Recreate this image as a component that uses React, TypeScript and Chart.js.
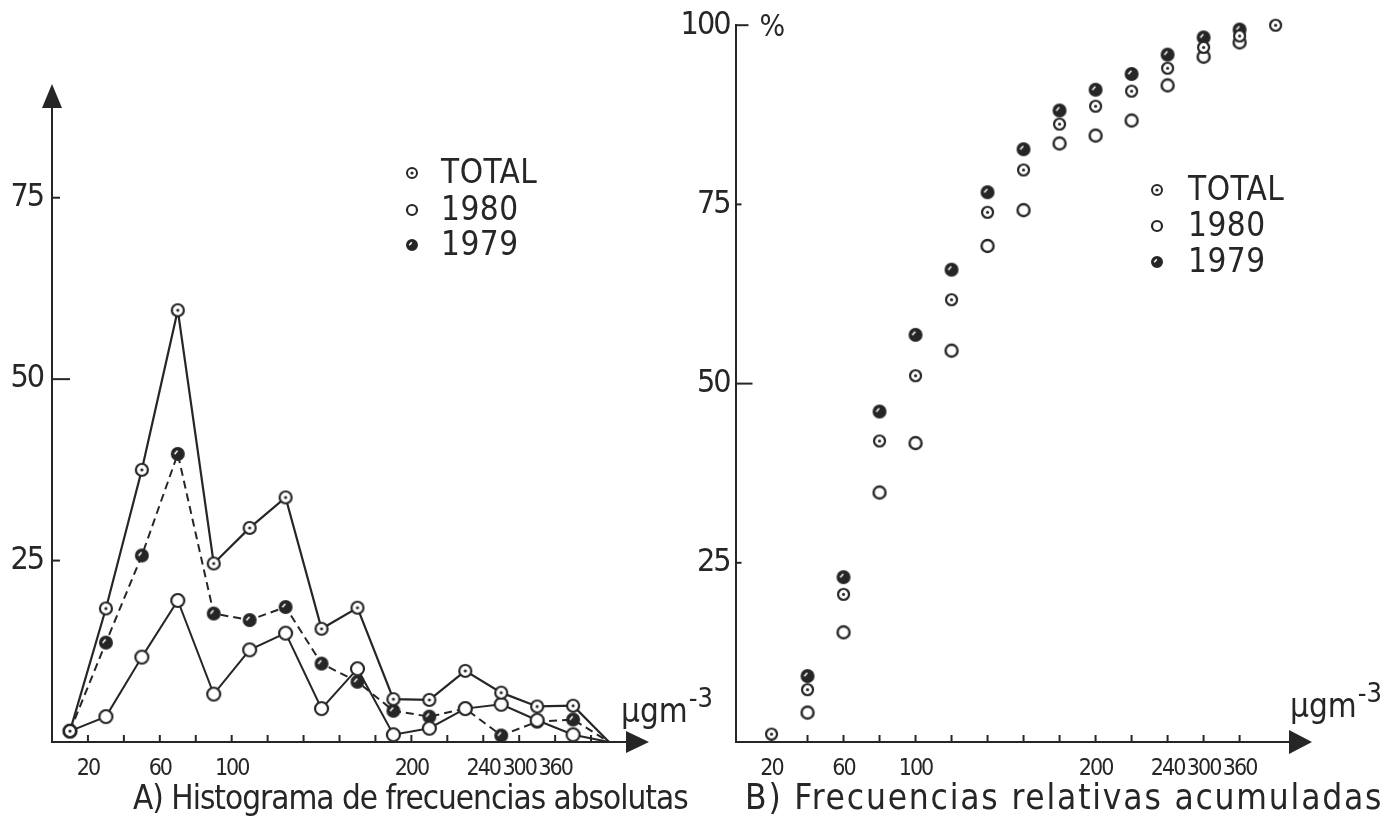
import React, { useEffect, useRef } from "react";
import { Chart, registerables } from "chart.js";

Chart.register(...registerables);

// ---------- DATA ----------
// Panel A: absolute frequencies per concentration class (class index midpoints)
const classMidpoints = [0.5, 1.5, 2.5, 3.5, 4.5, 5.5, 6.5, 7.5, 8.5, 9.5, 10.5, 11.5, 12.5, 13.5, 14.5, 15.5];
const absTotal = [1.5, 18.4, 37.5, 59.5, 24.6, 29.5, 33.7, 15.6, 18.5, 5.9, 5.8, 9.8, 6.8, 4.9, 5.0, 0];
const abs1980 = [1.5, 3.5, 11.7, 19.5, 6.6, 12.7, 15.0, 4.6, 10.1, 1.0, 1.9, 4.6, 5.2, 3.0, 1.0, 0];
const abs1979 = [1.5, 13.7, 25.7, 39.7, 17.7, 16.8, 18.6, 10.8, 8.3, 4.3, 3.5, 4.6, 0.9, 2.8, 3.1, 0];

// Panel B: cumulative relative frequencies (%) at class upper bounds
const classUpperBounds = [1, 2, 3, 4, 5, 6, 7, 8, 9, 10, 11, 12, 13, 14, 15];
const cumTotal = [1.1, 7.3, 20.6, 42.0, 51.1, 61.7, 73.9, 79.8, 86.2, 88.7, 90.8, 94.0, 96.9, 98.5, 100];
const cum1980 = [null, 4.1, 15.3, 34.8, 41.7, 54.6, 69.2, 74.2, 83.5, 84.6, 86.7, 91.6, 95.6, 97.6, null];
const cum1979 = [null, 9.2, 23.0, 46.1, 56.8, 65.9, 76.7, 82.7, 88.1, 91.0, 93.2, 95.9, 98.3, 99.4, null];

// Axis tick labels (µg m-3) at class boundaries
const xTickPositions = [1, 3, 5, 10, 12, 13, 14];
const xTickLabels = ["20", "60", "100", "200", "240", "300", "360"];
const yTicksA = [25, 50, 75];
const yTicksB = [25, 50, 75, 100];

const seriesNames = ["TOTAL", "1980", "1979"];
const captionA = "A) Histograma de frecuencias absolutas";
const captionB = "B) Frecuencias relativas acumuladas";

// ---------- STYLE ----------
const INK = "#262626";
const FONT = "'Liberation Sans Narrow', 'DejaVu Sans Condensed', 'Liberation Sans', sans-serif";
const W = 1386;
const H = 818;

type Kind = "total" | "open" | "half";

function makeMarker(kind: Kind, r: number, lw: number): HTMLCanvasElement {
  const pad = 3;
  const size = Math.ceil(2 * r + 2 * pad);
  const c = document.createElement("canvas");
  c.width = size;
  c.height = size;
  const g = c.getContext("2d")!;
  const cx = size / 2;
  const cy = size / 2;
  g.lineWidth = lw;
  g.strokeStyle = INK;
  g.beginPath();
  g.arc(cx, cy, r, 0, Math.PI * 2);
  if (kind === "half") {
    g.fillStyle = INK;
    g.fill();
    g.stroke();
    g.strokeStyle = "#fff";
    g.lineWidth = 1.5;
    g.beginPath();
    g.moveTo(cx - r * 0.55, cy + r * 0.05);
    g.lineTo(cx - r * 0.05, cy - r * 0.55);
    g.stroke();
  } else {
    g.fillStyle = "#fff";
    g.fill();
    g.stroke();
    if (kind === "total") {
      g.fillStyle = INK;
      g.beginPath();
      g.arc(cx, cy, 1.6, 0, Math.PI * 2);
      g.fill();
    }
  }
  return c;
}

function xLabel(v: number): string | null {
  const i = xTickPositions.indexOf(v);
  return i >= 0 ? xTickLabels[i] : null;
}

function setSpacing(ctx: any, px: number) {
  if ("letterSpacing" in ctx) ctx.letterSpacing = `${px}px`;
}

function drawUnit(ctx: CanvasRenderingContext2D, x: number, y: number) {
  setSpacing(ctx, 0);
  ctx.font = `33px ${FONT}`;
  ctx.textAlign = "left";
  ctx.textBaseline = "alphabetic";
  ctx.fillText("µgm", x, y);
  const w = ctx.measureText("µgm").width;
  ctx.font = `27px ${FONT}`;
  ctx.fillText("-3", x + w + 1, y - 15);
}

function drawLegend(ctx: CanvasRenderingContext2D, markers: HTMLCanvasElement[], mx: number, tx: number, ys: number[]) {
  setSpacing(ctx, 0.5);
  ctx.font = `33px ${FONT}`;
  ctx.textAlign = "left";
  ctx.textBaseline = "middle";
  for (let i = 0; i < seriesNames.length; i++) {
    const m = markers[i];
    ctx.drawImage(m, mx - m.width / 2, ys[i] - m.height / 2);
    ctx.fillText(seriesNames[i], tx, ys[i] + 1);
  }
}

const narrowTicks = {
  id: "narrowTicks",
  beforeDraw(chart: any) {
    setSpacing(chart.ctx, -2);
  },
  beforeDatasetsDraw(chart: any) {
    setSpacing(chart.ctx, 0);
  },
};

export default function App() {
  const refA = useRef<HTMLCanvasElement>(null);
  const refB = useRef<HTMLCanvasElement>(null);

  useEffect(() => {
    const mTotal = makeMarker("total", 6, 2.2);
    const mOpen = makeMarker("open", 6.5, 2.2);
    const mHalf = makeMarker("half", 6, 2);
    const bTotal = makeMarker("total", 5.5, 2.2);
    const bOpen = makeMarker("open", 6, 2.4);
    const bHalf = makeMarker("half", 6, 2);
    const lTotal = makeMarker("total", 5, 2);
    const lOpen = makeMarker("open", 5, 2.2);
    const lHalf = makeMarker("half", 5, 2);

    const tickFont = { family: FONT, size: 23 };
    const yFont = { family: FONT, size: 32 };

    // ---------- Panel A ----------
    const decorA = {
      id: "decorA",
      beforeDatasetsDraw(chart: any) {
        const ctx = chart.ctx as CanvasRenderingContext2D;
        const { left, bottom } = chart.chartArea;
        const xs = chart.scales.x;
        const ys = chart.scales.y;
        ctx.save();
        ctx.strokeStyle = INK;
        ctx.lineWidth = 2;
        for (const v of yTicksA) {
          const py = ys.getPixelForValue(v);
          const len = v === 50 ? 18 : 8;
          ctx.beginPath();
          ctx.moveTo(left, py);
          ctx.lineTo(left + len, py);
          ctx.stroke();
        }
        for (let k = 1; k <= 15; k++) {
          const px = xs.getPixelForValue(k);
          ctx.beginPath();
          ctx.moveTo(px, bottom);
          ctx.lineTo(px, bottom - 7);
          ctx.stroke();
        }
        ctx.restore();
      },
      afterDraw(chart: any) {
        const ctx = chart.ctx as CanvasRenderingContext2D;
        const { left, right, top, bottom } = chart.chartArea;
        ctx.save();
        ctx.fillStyle = INK;
        // y arrow
        ctx.beginPath();
        ctx.moveTo(left, top - 23);
        ctx.lineTo(left - 10, top + 1);
        ctx.lineTo(left + 10, top + 1);
        ctx.closePath();
        ctx.fill();
        // x arrow
        ctx.beginPath();
        ctx.moveTo(right + 22, bottom);
        ctx.lineTo(right - 1, bottom - 11);
        ctx.lineTo(right - 1, bottom + 11);
        ctx.closePath();
        ctx.fill();
        drawUnit(ctx, right - 6, bottom - 20);
        drawLegend(ctx, [lTotal, lOpen, lHalf], 412, 441, [173, 210, 245]);
        setSpacing(ctx, -1);
        ctx.font = `33px ${FONT}`;
        ctx.textAlign = "left";
        ctx.textBaseline = "middle";
        ctx.fillText(captionA, 133, 800);
        setSpacing(ctx, 0);
        ctx.restore();
      },
    };

    const lastA = classMidpoints.length - 1;
    const radiusA = (c: any) => (c.dataIndex === lastA ? 0 : 6);

    const chartA = new Chart(refA.current!, {
      type: "line",
      data: {
        datasets: [
          {
            label: seriesNames[0],
            data: classMidpoints.map((x, i) => ({ x, y: absTotal[i] })),
            borderColor: INK,
            borderWidth: 2.2,
            pointStyle: mTotal as any,
            pointRadius: radiusA as any,
            clip: false as any,
          },
          {
            label: seriesNames[1],
            data: classMidpoints.map((x, i) => ({ x, y: abs1980[i] })),
            borderColor: INK,
            borderWidth: 2,
            pointStyle: mOpen as any,
            pointRadius: radiusA as any,
            clip: false as any,
          },
          {
            label: seriesNames[2],
            data: classMidpoints.map((x, i) => ({ x, y: abs1979[i] })),
            borderColor: INK,
            borderWidth: 2,
            borderDash: [8, 5],
            pointStyle: mHalf as any,
            pointRadius: radiusA as any,
            clip: false as any,
          },
        ],
      },
      options: {
        animation: false,
        responsive: false,
        events: [],
        layout: { padding: { top: 107, right: W - 627, left: 0, bottom: 0 } },
        plugins: { legend: { display: false }, tooltip: { enabled: false }, title: { display: false } },
        scales: {
          x: {
            type: "linear",
            min: 0,
            max: 16,
            afterFit: (s: any) => {
              s.height = H - 742;
            },
            grid: { display: false, drawTicks: false },
            border: { display: true, color: INK, width: 2 },
            ticks: {
              stepSize: 1,
              autoSkip: false,
              maxRotation: 0,
              padding: 13,
              color: INK,
              font: tickFont,
              callback: (v: any) => xLabel(v),
            },
          },
          y: {
            type: "linear",
            min: 0,
            max: 87.5,
            afterFit: (s: any) => {
              s.width = 52;
            },
            grid: { display: false, drawTicks: false },
            border: { display: true, color: INK, width: 2 },
            ticks: {
              stepSize: 25,
              padding: 9,
              color: INK,
              font: yFont,
              callback: (v: any) => (yTicksA.includes(v) ? String(v) : null),
            },
          },
        },
      },
      plugins: [narrowTicks, decorA],
    });

    // ---------- Panel B ----------
    const decorB = {
      id: "decorB",
      beforeDatasetsDraw(chart: any) {
        const ctx = chart.ctx as CanvasRenderingContext2D;
        const { left, bottom } = chart.chartArea;
        const xs = chart.scales.x;
        const ys = chart.scales.y;
        ctx.save();
        ctx.strokeStyle = INK;
        ctx.lineWidth = 2;
        for (const v of yTicksB) {
          const py = ys.getPixelForValue(v);
          const len = v === 50 ? 17 : v === 100 ? 13 : 6;
          ctx.beginPath();
          ctx.moveTo(left, py);
          ctx.lineTo(left + len, py);
          ctx.stroke();
        }
        for (let k = 1; k <= 14; k++) {
          const px = xs.getPixelForValue(k);
          ctx.beginPath();
          ctx.moveTo(px, bottom);
          ctx.lineTo(px, bottom - 7);
          ctx.stroke();
        }
        ctx.restore();
      },
      afterDraw(chart: any) {
        const ctx = chart.ctx as CanvasRenderingContext2D;
        const { left, right, top, bottom } = chart.chartArea;
        ctx.save();
        ctx.fillStyle = INK;
        ctx.beginPath();
        ctx.moveTo(right + 22, bottom);
        ctx.lineTo(right - 1, bottom - 12);
        ctx.lineTo(right - 1, bottom + 12);
        ctx.closePath();
        ctx.fill();
        setSpacing(ctx, 0);
        ctx.font = `30px ${FONT}`;
        ctx.textAlign = "left";
        ctx.textBaseline = "middle";
        ctx.fillText("%", left + 24, top + 3);
        drawUnit(ctx, right, bottom - 25);
        drawLegend(ctx, [lTotal, lOpen, lHalf], 1157, 1188, [190, 226, 262]);
        setSpacing(ctx, 1.8);
        ctx.font = `35px ${FONT}`;
        ctx.textAlign = "left";
        ctx.textBaseline = "middle";
        ctx.fillText(captionB, 745, 800);
        setSpacing(ctx, 0);
        ctx.restore();
      },
    };

    const chartB = new Chart(refB.current!, {
      type: "line",
      data: {
        datasets: [
          {
            label: seriesNames[0],
            data: classUpperBounds.map((x, i) => ({ x, y: cumTotal[i] })),
            showLine: false,
            pointStyle: bTotal as any,
            pointRadius: 5,
            clip: false as any,
          },
          {
            label: seriesNames[1],
            data: classUpperBounds.map((x, i) => ({ x, y: cum1980[i] })),
            showLine: false,
            pointStyle: bOpen as any,
            pointRadius: 5,
            clip: false as any,
          },
          {
            label: seriesNames[2],
            data: classUpperBounds.map((x, i) => ({ x, y: cum1979[i] })),
            showLine: false,
            pointStyle: bHalf as any,
            pointRadius: 5,
            clip: false as any,
          },
        ],
      },
      options: {
        animation: false,
        responsive: false,
        events: [],
        layout: { padding: { top: 20.7, right: W - 1290, left: 735.5 - 80, bottom: 0 } },
        plugins: { legend: { display: false }, tooltip: { enabled: false }, title: { display: false } },
        scales: {
          x: {
            type: "linear",
            min: 0,
            max: 15.4,
            afterFit: (s: any) => {
              s.height = H - 742;
            },
            grid: { display: false, drawTicks: false },
            border: { display: true, color: INK, width: 2 },
            ticks: {
              stepSize: 1,
              autoSkip: false,
              maxRotation: 0,
              padding: 13,
              color: INK,
              font: tickFont,
              callback: (v: any) => xLabel(v),
            },
          },
          y: {
            type: "linear",
            min: 0,
            max: 100,
            afterFit: (s: any) => {
              s.width = 80;
            },
            grid: { display: false, drawTicks: false },
            border: { display: true, color: INK, width: 2 },
            ticks: {
              stepSize: 25,
              padding: 6,
              color: INK,
              font: yFont,
              callback: (v: any) => (yTicksB.includes(v) ? String(v) : null),
            },
          },
        },
      },
      plugins: [narrowTicks, decorB],
    });

    return () => {
      chartA.destroy();
      chartB.destroy();
    };
  }, []);

  return (
    <div style={{ position: "fixed", left: 0, top: 0, width: W, height: H, background: "#fff" }}>
      <canvas ref={refA} width={W} height={H} style={{ position: "absolute", left: 0, top: 0 }} />
      <canvas ref={refB} width={W} height={H} style={{ position: "absolute", left: 0, top: 0 }} />
    </div>
  );
}
